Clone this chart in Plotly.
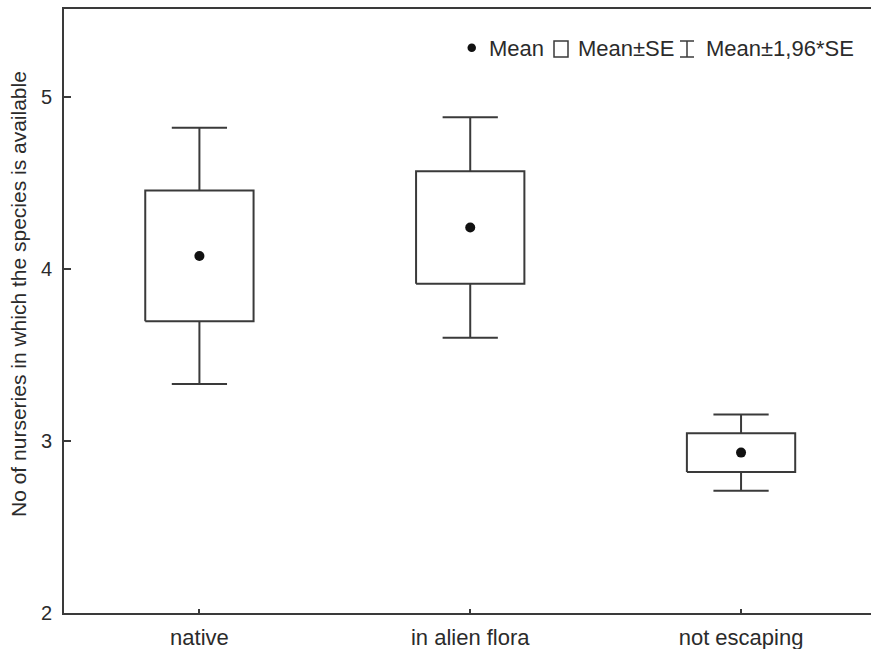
import plotly.graph_objects as go

# ---- data ----
categories = ["native", "in alien flora", "not escaping"]
means = [4.075, 4.24, 2.932]
se = [0.38, 0.327, 0.113]
ci_factor = 1.96
y_ticks = [2, 3, 4, 5]

LINE = "#3a3a3a"
TEXT = "#2b2b2b"
FONT = "Liberation Sans, Arial, sans-serif"

# figure is slightly wider than the window so the open right side of the
# frame runs off the edge, as in the reference
W, H = 890, 649
ML, MT, MB, MR = 64, 9, 36, 0
PW = W - ML - MR
PH = H - MT - MB

box_half = 0.2
cap_half = 0.102

xs = list(range(len(categories)))

box_x, box_y = [], []
wh_x, wh_y = [], []
for i, m, s in zip(xs, means, se):
    lo, hi = m - s, m + s
    clo, chi = m - ci_factor * s, m + ci_factor * s
    box_x += [i - box_half, i + box_half, i + box_half, i - box_half, i - box_half, None]
    box_y += [lo, lo, hi, hi, lo, None]
    wh_x += [i, i, None, i - cap_half, i + cap_half, None,
             i, i, None, i - cap_half, i + cap_half, None]
    wh_y += [hi, chi, None, chi, chi, None,
             lo, clo, None, clo, clo, None]

fig = go.Figure()
fig.add_trace(go.Scatter(x=box_x, y=box_y, mode="lines",
                         line=dict(color=LINE, width=2), showlegend=False,
                         hoverinfo="skip"))
fig.add_trace(go.Scatter(x=wh_x, y=wh_y, mode="lines",
                         line=dict(color=LINE, width=2), showlegend=False,
                         hoverinfo="skip"))
fig.add_trace(go.Scatter(x=xs, y=means, mode="markers",
                         marker=dict(color="#111111", size=10), showlegend=False))


def px(x):
    return (x - ML) / PW


def py(y):
    return (H - MB - y) / PH


# legend (drawn as decoration in paper coordinates)
shapes = []
shapes.append(dict(type="circle", xref="paper", yref="paper",
                   x0=px(467.5), x1=px(476), y0=py(43.5), y1=py(52),
                   fillcolor="#111111", line=dict(width=0)))
shapes.append(dict(type="rect", xref="paper", yref="paper",
                   x0=px(554), x1=px(568), y0=py(41), y1=py(57),
                   line=dict(color=LINE, width=1.5)))
ib = 687
shapes.append(dict(type="line", xref="paper", yref="paper",
                   x0=px(ib), x1=px(ib), y0=py(41), y1=py(57),
                   line=dict(color=LINE, width=1.5)))
for yy in (41, 57):
    shapes.append(dict(type="line", xref="paper", yref="paper",
                       x0=px(ib - 7), x1=px(ib + 7), y0=py(yy), y1=py(yy),
                       line=dict(color=LINE, width=1.5)))

annotations = []
for label, x0 in [("Mean", 487), ("Mean±SE", 576), ("Mean±1,96*SE", 704)]:
    annotations.append(dict(text=label, xref="paper", yref="paper",
                            x=px(x0), y=py(48.5), xanchor="left", yanchor="middle",
                            showarrow=False, font=dict(size=22, color=TEXT, family=FONT)))
annotations.append(dict(text="No of nurseries in which the species is available",
                        xref="paper", yref="paper", x=px(18), y=py(294),
                        xanchor="center", yanchor="middle", textangle=-90,
                        showarrow=False, font=dict(size=21, color=TEXT, family=FONT)))

fig.update_layout(
    width=W, height=H,
    margin=dict(l=ML, r=MR, t=MT, b=MB, pad=0),
    paper_bgcolor="white", plot_bgcolor="white",
    font=dict(family=FONT, size=20, color=TEXT),
    shapes=shapes, annotations=annotations,
    showlegend=False,
)
fig.update_xaxes(range=[-0.5, 2.55], tickmode="array", tickvals=xs, ticktext=categories,
                 showgrid=False, zeroline=False, showline=True, linecolor=LINE, linewidth=2,
                 mirror=True, ticks="inside", ticklen=4, tickwidth=1.5, tickcolor=LINE,
                 ticklabelstandoff=4,
                 tickfont=dict(size=22, color=TEXT, family=FONT))
fig.update_yaxes(range=[2, 5.51], tickmode="array", tickvals=y_ticks,
                 ticktext=[str(t) for t in y_ticks],
                 showgrid=False, zeroline=False, showline=True, linecolor=LINE, linewidth=2,
                 ticks="inside", ticklen=7, tickwidth=1.5, tickcolor=LINE,
                 ticklabelstandoff=6,
                 tickfont=dict(size=20, color=TEXT, family=FONT))

fig.write_html("out.html", config={"displayModeBar": False},
               post_script="document.body.style.margin='0';document.body.style.overflow='hidden';")
